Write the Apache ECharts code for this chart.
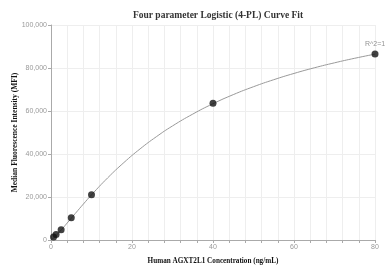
<!DOCTYPE html>
<html><head><meta charset="utf-8">
<script src="https://cdn.jsdelivr.net/npm/echarts@6/dist/echarts.min.js"></script>
<style>html,body{margin:0;padding:0;background:#fff}#c{width:385px;height:273px}</style>
</head><body><div id="c"></div>
<script>
var concentrations = [0.625, 1.25, 2.5, 5, 10, 40, 80];
var mfiValues = [1400, 2600, 4800, 10400, 21000, 63600, 86500];
var curveX = [0, 1, 2, 4, 6, 8, 10, 14, 18, 22, 26, 30, 35, 40, 45, 50, 55, 60, 65, 70, 75, 80];
var curveY = [0, 1580, 3570, 7900, 12350, 16730, 20990, 28910, 36020, 42380, 48020, 53050, 58560, 63390, 67610, 71300, 74560, 77470, 80080, 82410, 84530, 86450];
var xTicks = [0, 20, 40, 60, 80];
var yTicks = [0, 20000, 40000, 60000, 80000, 100000];
var r2Label = 'R^2=1';

var chart = echarts.init(document.getElementById('c'));
var serif = 'Liberation Serif, Times New Roman, serif';
var sans = 'Liberation Sans, Arial, sans-serif';
chart.setOption({
  animation: false,
  title: {text: 'Four parameter Logistic (4-PL) Curve Fit', left: 213, textAlign: 'center', top: 6,
    textStyle: {fontFamily: serif, fontWeight: 'bold', fontSize: 9.5, color: '#333'}},
  grid: {left: 51, right: 10, top: 25, bottom: 33, containLabel: false, outerBoundsMode: 'none'},
  xAxis: {type: 'value', min: 0, max: 80, interval: 4,
    name: 'Human AGXT2L1 Concentration (ng/mL)', nameLocation: 'middle', nameGap: 18, nameMoveOverlap: false,
    nameTextStyle: {fontFamily: serif, fontWeight: 'bold', fontSize: 7.2, color: '#111'},
    axisLine: {show: true, lineStyle: {color: '#aaa'}},
    axisTick: {show: true, length: 3, lineStyle: {color: '#aaa'}, interval: function(i, v){return xTicks.indexOf(v) >= 0;}},
    axisLabel: {fontSize: 7, color: '#999', margin: 4, fontFamily: sans,
      formatter: function(v){return xTicks.indexOf(v) >= 0 ? String(v) : '';}},
    splitLine: {show: true, lineStyle: {color: '#eee', width: 1}}},
  yAxis: {type: 'value', min: 0, max: 100000, interval: 20000,
    name: 'Median Fluorescence Intensity (MFI)', nameLocation: 'middle', nameGap: 32, nameRotate: 90, nameMoveOverlap: false,
    nameTextStyle: {fontFamily: serif, fontWeight: 'bold', fontSize: 7.5, color: '#111'},
    axisLine: {show: true, lineStyle: {color: '#aaa'}},
    axisTick: {show: true, length: 3, lineStyle: {color: '#aaa'}},
    axisLabel: {fontSize: 7, color: '#999', margin: 4, fontFamily: sans,
      formatter: function(v){return yTicks.indexOf(v) >= 0 ? v.toLocaleString('en-US') : '';}},
    splitLine: {show: true, lineStyle: {color: '#eee', width: 1}}},
  series: [
    {type: 'line', data: curveX.map(function(x, i){return [x, curveY[i]];}), smooth: true, showSymbol: false,
      lineStyle: {color: '#999', width: 1}, z: 2},
    {type: 'scatter', data: concentrations.map(function(x, i){return [x, mfiValues[i]];}), symbolSize: 7,
      itemStyle: {color: '#111'}, z: 3,
      label: {show: true, position: 'top', distance: 3, fontSize: 7, color: '#777', fontFamily: sans,
        formatter: function(p){return p.dataIndex === concentrations.length - 1 ? r2Label : '';}}}
  ]
});
</script></body></html>
